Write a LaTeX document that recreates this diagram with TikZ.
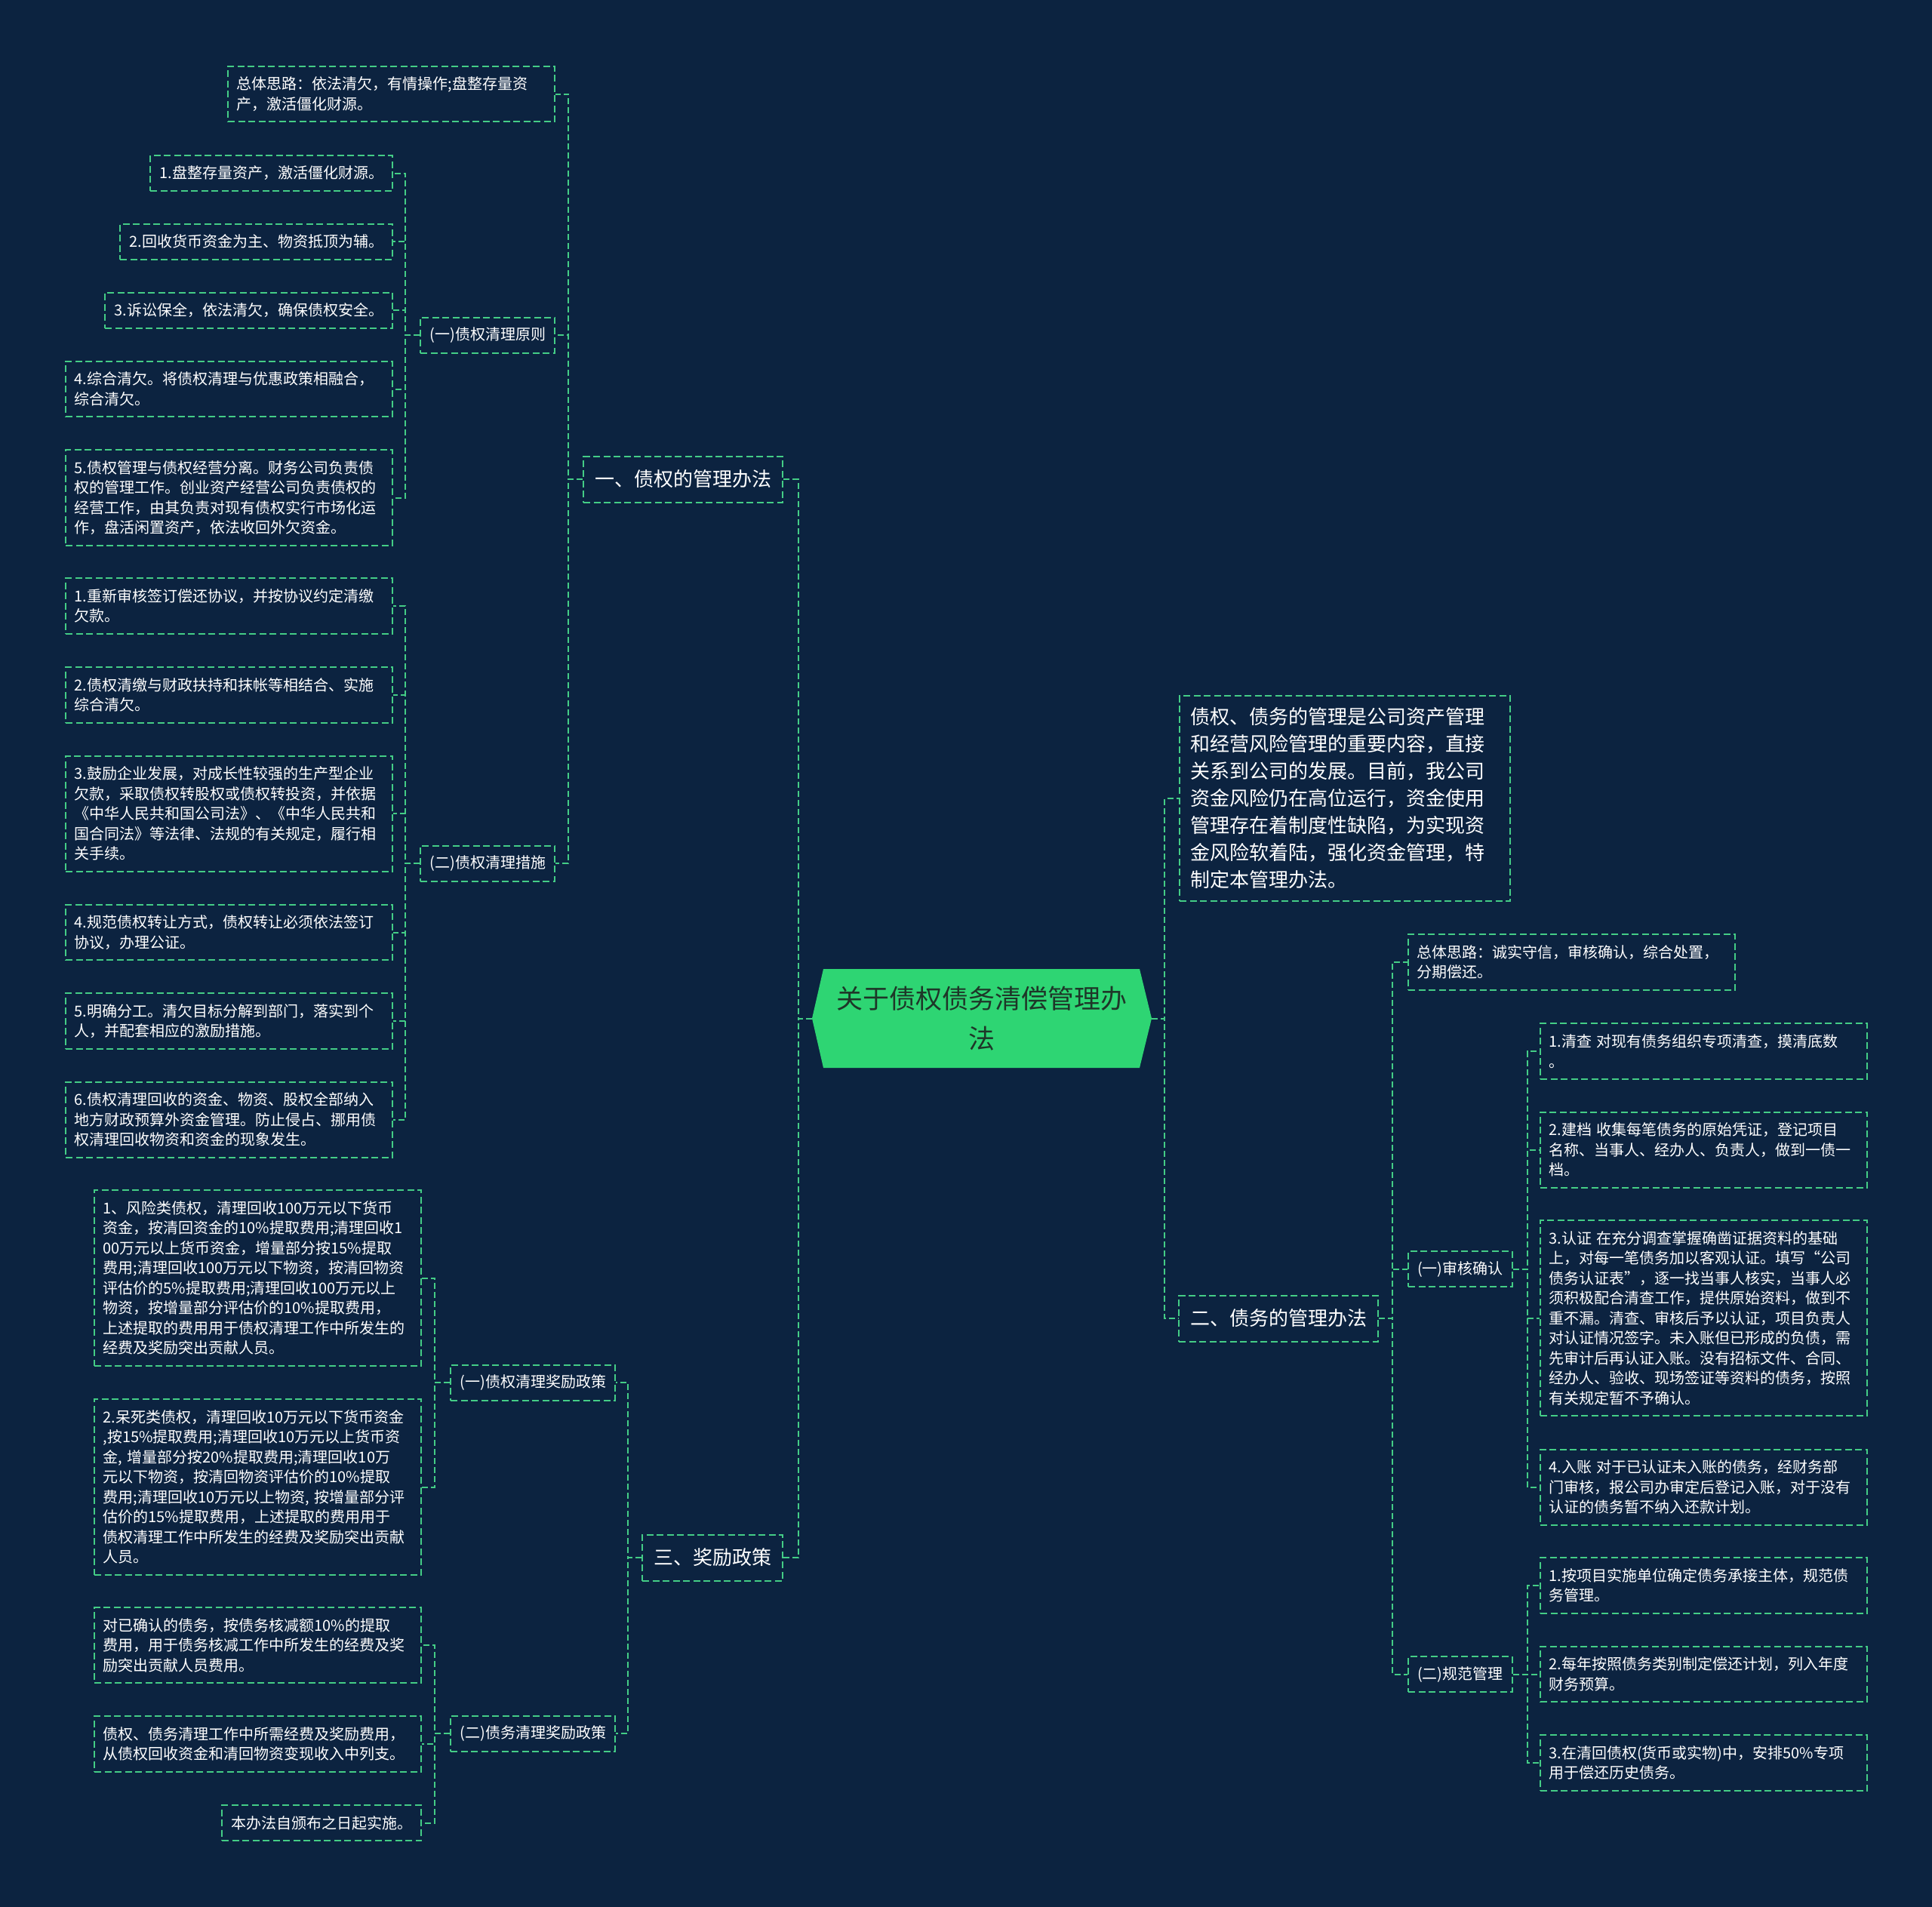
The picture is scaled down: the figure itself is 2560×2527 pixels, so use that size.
\documentclass[tikz,border=0pt]{standalone}
\usepackage{fontspec}
\setmainfont{Noto Sans CJK SC}
\definecolor{bgnavy}{HTML}{0C2340}
\definecolor{dashgreen}{HTML}{44CD86}
\definecolor{rootgreen}{HTML}{2ED573}
\definecolor{roottext}{HTML}{1E3628}
\newcommand{\leaffont}{\fontsize{20}{26.5}\selectfont}
\newcommand{\headfont}{\fontsize{26}{36}\selectfont}
\newcommand{\rootfont}{\fontsize{35}{53}\selectfont}
\begin{document}
\begin{tikzpicture}[x=1pt,y=-1pt,
  box/.style={draw=dashgreen,line width=2pt,dash pattern=on 9pt off 4.5pt,text=white,align=left},
  leaf/.style={box,font=\leaffont,text width=410pt,inner xsep=11.5pt,inner ysep=6pt,minimum height={20.5+26.5*#1}},
  leaf/.default=1,
  tag/.style={box,font=\leaffont,inner xsep=12pt,inner ysep=6pt,minimum height=47pt},
  branch/.style={box,font=\headfont,inner xsep=15pt,inner ysep=6pt,minimum height=61pt},
  link/.style={draw=dashgreen,line width=2pt,dash pattern=on 8pt off 4pt}]
\fill[bgnavy] (0,0) rectangle (2560,2527);
\fill[rootgreen] (1091,1284) -- (1510,1284) -- (1526,1349.5) -- (1510,1415) -- (1091,1415) -- (1076,1349.5) -- cycle;
\node[font=\rootfont,text=roottext,align=center,minimum width=450pt,minimum height=131pt,inner sep=0pt] (root) at (1301,1349.5) {关于债权债务清偿管理办\\法};
\node[branch,anchor=east] (b1) at (1038,635) {一、债权的管理办法};
\node[leaf=2,anchor=east] (b1s) at (736,124.5) {总体思路：依法清欠，有情操作;盘整存量资\\产，激活僵化财源。};
\node[tag,anchor=east] (b1a) at (736,444) {(一)债权清理原则};
\node[tag,anchor=east] (b1b) at (736,1144) {(二)债权清理措施};
\node[tag,anchor=east] (a1) at (521,229.5) {1.盘整存量资产，激活僵化财源。};
\node[tag,anchor=east] (a2) at (521,320) {2.回收货币资金为主、物资抵顶为辅。};
\node[tag,anchor=east] (a3) at (521,411) {3.诉讼保全，依法清欠，确保债权安全。};
\node[leaf=2,anchor=east] (a4) at (521,515.5) {4.综合清欠。将债权清理与优惠政策相融合，\\综合清欠。};
\node[leaf=4,anchor=east] (a5) at (521,659.5) {5.债权管理与债权经营分离。财务公司负责债\\权的管理工作。创业资产经营公司负责债权的\\经营工作，由其负责对现有债权实行市场化运\\作，盘活闲置资产，依法收回外欠资金。};
\node[leaf=2,anchor=east] (c1) at (521,803) {1.重新审核签订偿还协议，并按协议约定清缴\\欠款。};
\node[leaf=2,anchor=east] (c2) at (521,921) {2.债权清缴与财政扶持和抹帐等相结合、实施\\综合清欠。};
\node[leaf=5,anchor=east] (c3) at (521,1078) {3.鼓励企业发展，对成长性较强的生产型企业\\欠款，采取债权转股权或债权转投资，并依据\\《中华人民共和国公司法》、《中华人民共和\\国合同法》等法律、法规的有关规定，履行相\\关手续。};
\node[leaf=2,anchor=east] (c4) at (521,1235.5) {4.规范债权转让方式，债权转让必须依法签订\\协议，办理公证。};
\node[leaf=2,anchor=east] (c5) at (521,1353) {5.明确分工。清欠目标分解到部门，落实到个\\人，并配套相应的激励措施。};
\node[leaf=3,anchor=east] (c6) at (521,1483.5) {6.债权清理回收的资金、物资、股权全部纳入\\地方财政预算外资金管理。防止侵占、挪用债\\权清理回收物资和资金的现象发生。};
\node[branch,anchor=east] (b3) at (1038,2064) {三、奖励政策};
\node[tag,anchor=east] (d1) at (816,1832) {(一)债权清理奖励政策};
\node[tag,anchor=east] (d2) at (816,2297) {(二)债务清理奖励政策};
\node[leaf=8,anchor=east] (e1) at (559,1693.5) {1、风险类债权，清理回收100万元以下货币\\资金，按清回资金的10\%提取费用;清理回收1\\00万元以上货币资金，增量部分按15\%提取\\费用;清理回收100万元以下物资，按清回物资\\评估价的5\%提取费用;清理回收100万元以上\\物资，按增量部分评估价的10\%提取费用，\\上述提取的费用用于债权清理工作中所发生的\\经费及奖励突出贡献人员。};
\node[leaf=8,anchor=east] (e2) at (559,1970.5) {2.呆死类债权，清理回收10万元以下货币资金\\,按15\%提取费用;清理回收10万元以上货币资\\金, 增量部分按20\%提取费用;清理回收10万\\元以下物资，按清回物资评估价的10\%提取\\费用;清理回收10万元以上物资, 按增量部分评\\估价的15\%提取费用，上述提取的费用用于\\债权清理工作中所发生的经费及奖励突出贡献\\人员。};
\node[leaf=3,anchor=east] (f1) at (559,2180) {对已确认的债务，按债务核减额10\%的提取\\费用，用于债务核减工作中所发生的经费及奖\\励突出贡献人员费用。};
\node[leaf=2,anchor=east] (f2) at (559,2311) {债权、债务清理工作中所需经费及奖励费用，\\从债权回收资金和清回物资变现收入中列支。};
\node[tag,anchor=east] (f3) at (559,2415.5) {本办法自颁布之日起实施。};
\node[box,font=\headfont,text width=410pt,inner xsep=14pt,minimum height=272pt,anchor=west] (intro) at (1562,1058) {债权、债务的管理是公司资产管理\\和经营风险管理的重要内容，直接\\关系到公司的发展。目前，我公司\\资金风险仍在高位运行，资金使用\\管理存在着制度性缺陷，为实现资\\金风险软着陆，强化资金管理，特\\制定本管理办法。};
\node[branch,anchor=west] (b2) at (1561,1747) {二、债务的管理办法};
\node[leaf=2,anchor=west] (g0) at (1865,1275) {总体思路：诚实守信，审核确认，综合处置，\\分期偿还。};
\node[tag,anchor=west] (g1) at (1865,1681.5) {(一)审核确认};
\node[tag,anchor=west] (g2) at (1865,2218.5) {(二)规范管理};
\node[leaf=2,anchor=west] (h1) at (2040,1393) {1.清查 对现有债务组织专项清查，摸清底数\\。};
\node[leaf=3,anchor=west] (h2) at (2040,1523.5) {2.建档 收集每笔债务的原始凭证，登记项目\\名称、当事人、经办人、负责人，做到一债一\\档。};
\node[leaf=9,anchor=west] (h3) at (2040,1746.5) {3.认证 在充分调查掌握确凿证据资料的基础\\上，对每一笔债务加以客观认证。填写“公司\\债务认证表”，逐一找当事人核实，当事人必\\须积极配合清查工作，提供原始资料，做到不\\重不漏。清查、审核后予以认证，项目负责人\\对认证情况签字。未入账但已形成的负债，需\\先审计后再认证入账。没有招标文件、合同、\\经办人、验收、现场签证等资料的债务，按照\\有关规定暂不予确认。};
\node[leaf=3,anchor=west] (h4) at (2040,1970.5) {4.入账 对于已认证未入账的债务，经财务部\\门审核，报公司办审定后登记入账，对于没有\\认证的债务暂不纳入还款计划。};
\node[leaf=2,anchor=west] (k1) at (2040,2101) {1.按项目实施单位确定债务承接主体，规范债\\务管理。};
\node[leaf=2,anchor=west] (k2) at (2040,2218.5) {2.每年按照债务类别制定偿还计划，列入年度\\财务预算。};
\node[leaf=2,anchor=west] (k3) at (2040,2336) {3.在清回债权(货币或实物)中，安排50\%专项\\用于偿还历史债务。};
\foreach \nd in {b1,b3} \draw[link] (root.west) -- ++(-18,0) |- (\nd.east);
\foreach \nd in {intro,b2} \draw[link] (root.east) -- ++(17,0) |- (\nd.west);
\foreach \nd in {b1s,b1a,b1b} \draw[link] (b1.west) -- ++(-19,0) |- (\nd.east);
\foreach \nd in {a1,a2,a3,a4,a5} \draw[link] (b1a.west) -- ++(-19,0) |- (\nd.east);
\foreach \nd in {c1,c2,c3,c4,c5,c6} \draw[link] (b1b.west) -- ++(-19,0) |- (\nd.east);
\foreach \nd in {d1,d2} \draw[link] (b3.west) -- ++(-18,0) |- (\nd.east);
\foreach \nd in {e1,e2} \draw[link] (d1.west) -- ++(-20,0) |- (\nd.east);
\foreach \nd in {f1,f2,f3} \draw[link] (d2.west) -- ++(-20,0) |- (\nd.east);
\foreach \nd in {g0,g1,g2} \draw[link] (b2.east) -- ++(18,0) |- (\nd.west);
\foreach \nd in {h1,h2,h3,h4} \draw[link] (g1.east) -- ++(19,0) |- (\nd.west);
\foreach \nd in {k1,k2,k3} \draw[link] (g2.east) -- ++(19,0) |- (\nd.west);
\end{tikzpicture}
\end{document}
